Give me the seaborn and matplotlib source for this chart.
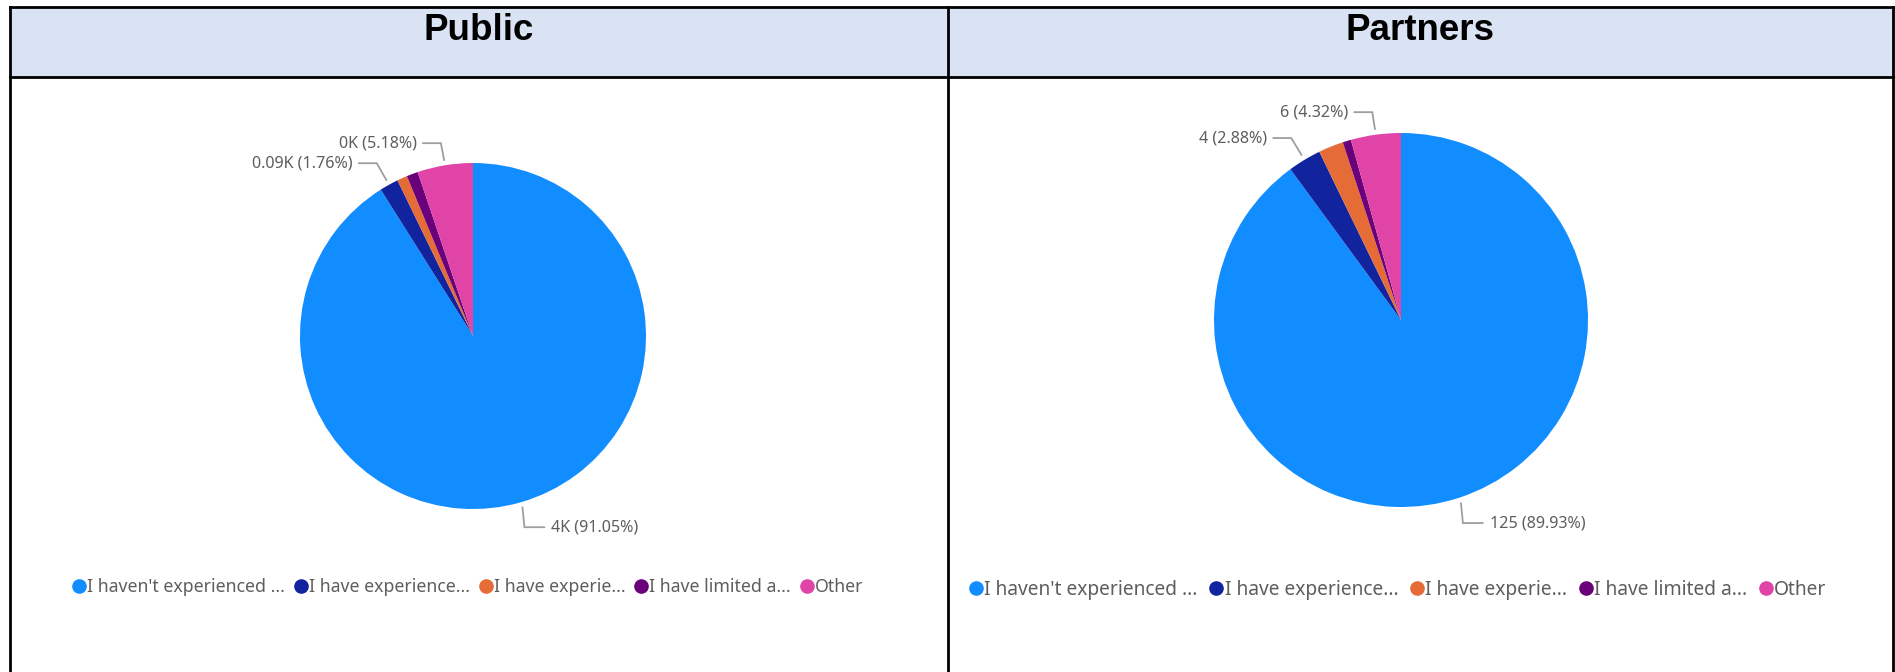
import matplotlib
matplotlib.use("Agg")
import matplotlib.pyplot as plt
from matplotlib.lines import Line2D
import numpy as np
import seaborn as sns

# ---- data -------------------------------------------------------------
categories = [
    "I haven't experienced ...",
    "I have experience...",
    "I have experie...",
    "I have limited a...",
    "Other",
]
panel_titles = ["Public", "Partners"]

# Public responses: share of respondents (%) and the value shown on the label
public_share = [91.05, 1.76, 0.95, 1.06, 5.18]
public_value_text = ["4K", "0.09K", "0.05K", "0.05K", "0K"]

# Partner responses: respondent counts
partners_counts = [125, 4, 3, 1, 6]

# slices that carry a data label
labelled = [0, 1, 4]

slice_colors = ["#118DFF", "#12239E", "#E66C37", "#6B007B", "#E044A7"]

# ---- style ------------------------------------------------------------
sns.set_theme(style="white")
palette = sns.color_palette(slice_colors)
plt.rcParams["font.family"] = ["Noto Sans", "DejaVu Sans"]

W, H = 1895, 672
fig = plt.figure(figsize=(W / 100, H / 100), dpi=100)
fig.patch.set_facecolor("white")

# background axes in pixel coordinates for the table frame
bg = fig.add_axes([0, 0, 1, 1])
bg.set_xlim(0, W)
bg.set_ylim(H, 0)
bg.axis("off")

left_x, mid_x, right_x = 10, 948, 1893
top_y, head_y = 7, 76.5
bg.add_patch(plt.Rectangle((left_x, top_y), right_x - left_x, head_y - top_y,
                           facecolor="#DAE3F3", edgecolor="none", zorder=0))
frame_kw = dict(color="black", lw=2.0, solid_capstyle="projecting", zorder=2)
bg.plot([left_x, right_x], [top_y, top_y], **frame_kw)
bg.plot([left_x, right_x], [head_y, head_y], **frame_kw)
for x in (left_x, mid_x, right_x):
    bg.plot([x, x], [top_y, H + 5], **frame_kw)

for title, cx in zip(panel_titles, [(left_x + mid_x) / 2, (mid_x + right_x) / 2]):
    bg.text(cx, 40, title, ha="center", va="baseline", fontsize=26.5,
            fontweight="bold", family=["Liberation Sans", "DejaVu Sans"], color="black")

LABEL_GREY = "#605E5C"
LEADER_GREY = "#9E9E9E"


def draw_pie(cx, cy, r, values, labels, legend_xy, legend_fs, label_fs, colspace):
    lim = 1.75
    half = lim * r
    ax = fig.add_axes([(cx - half) / W, (H - cy - half) / H, 2 * half / W, 2 * half / H])
    wedges, _ = ax.pie(values, colors=palette, startangle=90, counterclock=False,
                       wedgeprops=dict(linewidth=0))
    ax.set_xlim(-lim, lim)
    ax.set_ylim(-lim, lim)
    ax.set_aspect("equal")
    ax.axis("off")

    px = 1.0 / r
    for i in labelled:
        w = wedges[i]
        mid = np.deg2rad((w.theta1 + w.theta2) / 2)
        x0, y0 = 1.03 * np.cos(mid), 1.03 * np.sin(mid)
        if y0 < 0:
            ex, ey = x0 + 2 * px, y0 - 20 * px
            hx = ex + 20 * px
            tx, ha = hx + 7 * px, "left"
        else:
            ex, ey = x0 - 20 * px * abs(np.cos(mid)), y0 + 17 * px
            hx = ex - 18 * px
            tx, ha = hx - 6 * px, "right"
        ax.plot([x0, ex, hx], [y0, ey, ey], color=LEADER_GREY, lw=1.3,
                clip_on=False, solid_joinstyle="miter")
        ax.text(tx, ey, labels[i], ha=ha, va="center", fontsize=label_fs,
                color=LABEL_GREY, clip_on=False)

    handles = [Line2D([], [], marker="o", linestyle="", markersize=9.5,
                      markerfacecolor=c, markeredgecolor=c) for c in palette]
    ax.legend(handles, categories, loc="center left", bbox_to_anchor=legend_xy,
              bbox_transform=bg.transData, ncol=5, frameon=False,
              fontsize=legend_fs, handlelength=0.7, handletextpad=0.1,
              columnspacing=colspace, borderaxespad=0, borderpad=0,
              labelcolor=LABEL_GREY)
    return ax


public_labels = [f"{public_value_text[i]} ({public_share[i]:.2f}%)" for i in range(len(public_share))]
total_partners = sum(partners_counts)
partners_labels = [f"{c} ({c / total_partners * 100:.2f}%)" for c in partners_counts]

draw_pie(473, 336, 173, public_share, public_labels, (73, 587), 12.75, 11.6, 0.55)
draw_pie(1401, 320, 187, partners_counts, partners_labels, (969, 590), 13.85, 11.6, 0.6)

fig.savefig("out.png", dpi=100, facecolor="white")
